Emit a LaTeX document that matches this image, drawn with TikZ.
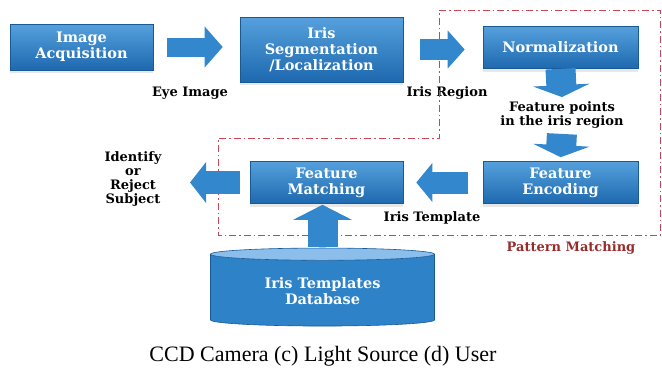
\documentclass[tikz,border=0pt]{standalone}
\usepackage{fontspec}
\setmainfont{DejaVu Serif}
\newfontfamily\capfont{Liberation Serif}
\usepackage{tikz}
\usetikzlibrary{shapes.geometric,arrows.meta,shadows}
\definecolor{boxtop}{RGB}{85,160,220}
\definecolor{boxbot}{RGB}{30,105,175}
\definecolor{boxline}{RGB}{25,90,150}
\definecolor{flowblue}{RGB}{50,135,205}
\definecolor{dbbody}{RGB}{45,130,200}
\definecolor{dbend}{RGB}{140,190,235}
\definecolor{regionred}{RGB}{200,70,85}
\definecolor{regiontext}{RGB}{150,45,45}
\tikzstyle{box}=[rectangle, top color=boxtop, bottom color=boxbot, draw=boxline, line width=0.6pt, text=white, align=center, font=\fontsize{14.5}{16}\selectfont\bfseries, inner sep=2pt, drop shadow={opacity=0.18, shadow xshift=0pt, shadow yshift=-3pt}]
\tikzstyle{lbl}=[align=center, font=\fontsize{13}{14}\selectfont\bfseries]
\tikzstyle{flow}=[flowblue, line width=20pt]
\tikzstyle{region}=[regionred, line width=1pt, dash pattern=on 7pt off 3pt on 1.5pt off 3pt]

\begin{document}
\begin{tikzpicture}[x=1pt,y=-1pt]
\useasboundingbox (0,0) rectangle (662,370);
\node[box, minimum width=143pt, minimum height=46pt] (Acq) at (81.5,47) {Image\\Acquisition};
\node[box, minimum width=163pt, minimum height=65pt] (Seg) at (321.5,49.5) {Iris\\Segmentation\\/Localization};
\node[box, minimum width=155pt, minimum height=42pt] (Norm) at (560.5,47.5) {Normalization};
\node[box, minimum width=155pt, minimum height=42pt] (Enc) at (560.5,182.5) {Feature\\Encoding};
\node[box, minimum width=153pt, minimum height=42pt] (Match) at (326.5,182.5) {Feature\\Matching};
\node[cylinder, shape border rotate=90, aspect=0.1, minimum width=224pt, minimum height=78pt,
  cylinder uses custom fill, cylinder body fill=dbbody, cylinder end fill=dbend,
  draw=boxline, line width=0.6pt, text=white, align=center,
  font=\fontsize{14.5}{16}\selectfont\bfseries] (DB) at (322.5,291) {Iris Templates\\Database};

\node[lbl] (Eye) at (190,93) {Eye Image};
\node[lbl] (IReg) at (447,93) {Iris Region};
\node[lbl] (Pts) at (562,115) {Feature points\\in the iris region};
\node[lbl] (ITpl) at (432,218) {Iris Template};
\node[lbl] (Id) at (133,179) {Identify\\or\\Reject\\Subject};
\node[lbl, text=regiontext, font=\fontsize{13}{14}\selectfont\bfseries] (PM) at (571,248) {Pattern Matching};
\node[font=\capfont\fontsize{22}{24}\selectfont] (Cap) at (323,356) {CCD Camera (c) Light Source (d) User};

% pattern matching region
\draw[region] (439,10) -| (660,235) -| (218,138) -- (439,138) -- cycle;

% block arrows
\draw[flow, line width=19pt, -{Triangle[width=40pt,length=18pt]}, shorten <=14pt, shorten >=17pt] (Acq.east) -- (Acq.east -| Seg.west);
\draw[flow, line width=21pt, -{Triangle[width=37pt,length=17pt]}, shorten <=17pt, shorten >=18pt] (Seg.east) -- (Seg.east -| Norm.west);
\draw[flow, line width=30pt, -{Triangle[width=56pt,length=12pt]}, shorten >=1pt] (Norm.south) -- (Pts.north);
\draw[flow, line width=30pt, -{Triangle[width=56pt,length=12pt]}, shorten <=2pt, shorten >=4pt] (Pts.south) -- (Enc.north);
\draw[flow, line width=22pt, -{Triangle[width=38pt,length=16pt]}, shorten <=15pt, shorten >=13pt] (Enc.west) -- (Enc.west -| Match.east);
\draw[flow, line width=23pt, -{Triangle[width=40pt,length=16pt]}, shorten <=10pt, shorten >=25pt] (Match.west) -- (Match.west -| Id.east);
\draw[flow, line width=30pt, -{Triangle[width=58pt,length=15pt]}, shorten <=1pt, shorten >=1pt] (DB.north) -- (DB.north |- Match.south);
\end{tikzpicture}
\end{document}
